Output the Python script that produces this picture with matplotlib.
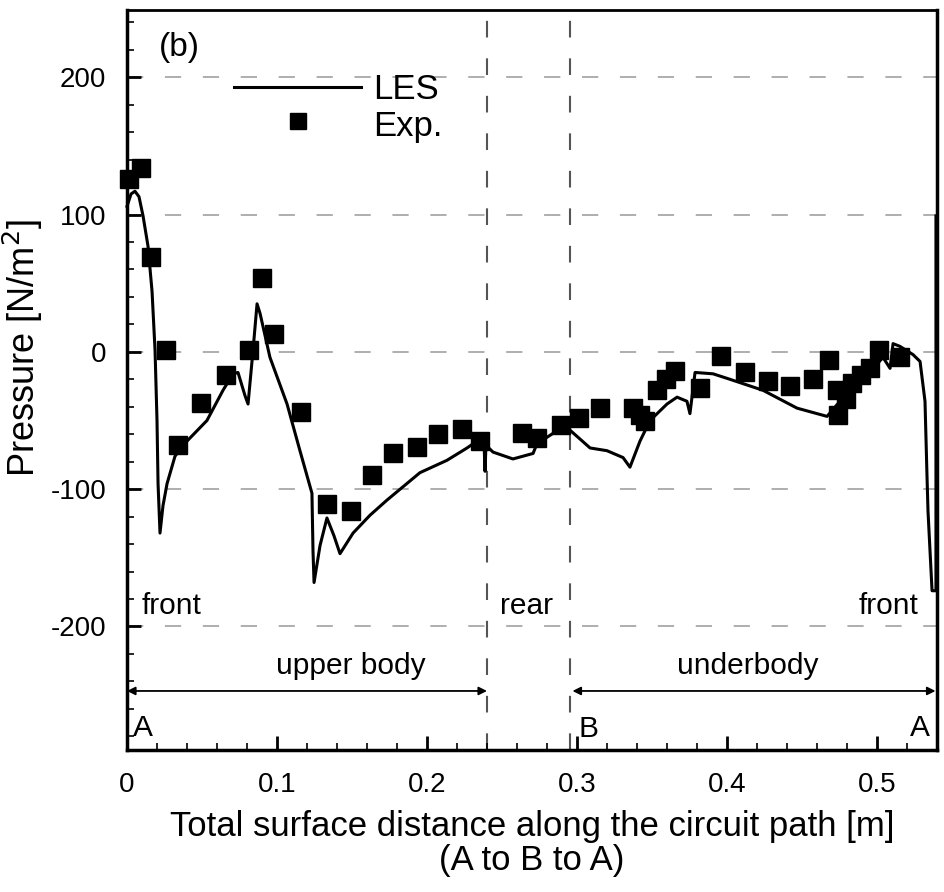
import matplotlib
matplotlib.use("Agg")
import matplotlib.pyplot as plt
from matplotlib.ticker import MultipleLocator

plt.rcParams['font.family'] = ['Liberation Sans', 'DejaVu Sans']

# LES curve
les_x = [0.0, 0.0027, 0.0053, 0.008, 0.0107, 0.014, 0.0167, 0.0187, 0.02, 0.0207, 0.022,
         0.024, 0.0267, 0.032, 0.04, 0.0533, 0.064, 0.0707, 0.074, 0.0787, 0.0807, 0.084,
         0.0867, 0.0887, 0.0953, 0.1067, 0.1153, 0.1233, 0.124, 0.1247, 0.1287, 0.1333,
         0.138, 0.142, 0.1507, 0.162, 0.1733, 0.1953, 0.2133, 0.2267, 0.2333, 0.238,
         0.2387, 0.2393, 0.244, 0.2573, 0.2707, 0.2733, 0.2887, 0.2953, 0.3087, 0.32,
         0.3307, 0.3353, 0.342, 0.3487, 0.36, 0.3667, 0.3733, 0.3753, 0.3787, 0.3907,
         0.402, 0.424, 0.4467, 0.4667, 0.4753, 0.4887, 0.5, 0.504, 0.5087, 0.5107, 0.5153,
         0.524, 0.5287, 0.532, 0.5333, 0.534, 0.5367, 0.5393, 0.5393]
les_y = [106, 115, 117, 113, 99, 77, 44, 1, -50, -96, -132,
         -112, -96, -76, -65, -50, -28, -16, -15, -32, -38, 1,
         35, 28, -4, -38, -72, -103, -145, -168, -141, -121,
         -134, -147, -132, -119, -108, -88, -79, -70, -65, -66,
         -87, -68, -73, -78, -74, -67, -56, -57, -70, -72,
         -77, -84, -65, -50, -38, -33, -36, -45, -15, -16,
         -20, -28, -41, -47, -36, -23, -9, -4, -12, 6, 4,
         -2, -7, -36, -89, -116, -174, -174, 99]

# Experimental data
exp_x = [0.001, 0.009, 0.016, 0.026, 0.034, 0.049, 0.066, 0.081, 0.090, 0.098, 0.116,
         0.133, 0.149, 0.163, 0.177, 0.193, 0.207, 0.223, 0.235, 0.263, 0.273, 0.289,
         0.301, 0.315, 0.337, 0.342, 0.345, 0.353, 0.359, 0.365, 0.382, 0.396, 0.412,
         0.427, 0.442, 0.457, 0.468, 0.473, 0.474, 0.479, 0.483, 0.489, 0.495, 0.501,
         0.515]
exp_y = [126, 134, 69, 1, -68, -37, -17, 1, 54, 13, -44,
         -111, -116, -90, -74, -69, -60, -56, -65, -59, -63, -53,
         -48, -41, -41, -46, -50, -28, -20, -14, -26, -3, -15,
         -21, -25, -20, -6, -28, -46, -34, -23, -17, -12, 1,
         -4]

x_ticks = [0, 0.1, 0.2, 0.3, 0.4, 0.5]
x_ticklabels = ['0', '0.1', '0.2', '0.3', '0.4', '0.5']
y_ticks = [-200, -100, 0, 100, 200]
y_ticklabels = ['-200', '-100', '0', '100', '200']
boundaries = [0.24, 0.295]

fig = plt.figure(figsize=(9.44, 8.92), dpi=100)
ax = fig.add_axes([127/944, 1-750/892, (937-127)/944, (750-10)/892])

ax.set_xlim(0, 0.54)
ax.set_ylim(-290, 249)

# grid lines
for yv in y_ticks:
    ax.axhline(yv, color='#a8a8a8', lw=1.3, dashes=(9, 12), zorder=1)
for xv in boundaries:
    ax.axvline(xv, color='#555555', lw=1.5, dashes=(8, 10), zorder=1)

ax.plot(les_x, les_y, color='black', lw=2.2, zorder=3, clip_on=False)
ax.plot(exp_x, exp_y, 's', color='black', ms=12.5, zorder=4, clip_on=False)

# legend (manual)
ax.plot([0.071, 0.156], [193, 193], color='black', lw=2.2)
ax.plot([0.114], [168], 's', color='black', ms=12)
ax.text(0.164, 191, 'LES', fontsize=25, va='center', ha='left')
ax.text(0.164, 164, 'Exp.', fontsize=25, va='center', ha='left')

# annotations
ax.text(0.035, 222, '(b)', fontsize=24, ha='center', va='center')
ax.text(0.010, -185, 'front', fontsize=21.5, ha='left', va='center')
ax.text(0.249, -185, 'rear', fontsize=21.5, ha='left', va='center')
ax.text(0.5275, -185, 'front', fontsize=21.5, ha='right', va='center')
ax.text(0.149, -229, 'upper body', fontsize=21.5, ha='center', va='center')
ax.text(0.414, -229, 'underbody', fontsize=21.5, ha='center', va='center')
ax.text(0.004, -274, 'A', fontsize=21.5, ha='left', va='center')
ax.text(0.301, -275, 'B', fontsize=21.5, ha='left', va='center')
ax.text(0.5355, -274, 'A', fontsize=21.5, ha='right', va='center')

arrow_kw = dict(arrowstyle='<|-|>', color='black', lw=1.3, mutation_scale=12, shrinkA=0, shrinkB=0)
ax.annotate('', xy=(0.0, -247), xytext=(0.240, -247), arrowprops=arrow_kw)
ax.annotate('', xy=(0.297, -247), xytext=(0.539, -247), arrowprops=arrow_kw)

# ticks
ax.set_xticks(x_ticks)
ax.set_xticklabels(x_ticklabels)
ax.set_yticks(y_ticks)
ax.set_yticklabels(y_ticklabels)
ax.xaxis.set_minor_locator(MultipleLocator(0.02))
ax.yaxis.set_minor_locator(MultipleLocator(20))
ax.tick_params(which='major', direction='in', length=10, width=2, labelsize=20, colors='black')
ax.tick_params(axis='x', which='major', pad=16)
ax.tick_params(axis='y', which='major', pad=15)
ax.tick_params(which='minor', direction='in', length=5, width=1.2)
ax.tick_params(top=False, right=False, which='both')

for s in ['left', 'bottom', 'right']:
    ax.spines[s].set_linewidth(2.5)
ax.spines['top'].set_linewidth(2.0)

ax.set_ylabel('Pressure [N/m$^2$]', fontsize=26)
ax.yaxis.set_label_coords(-0.101, (750-348)/740)
ax.set_xlabel('Total surface distance along the circuit path [m]\n(A to B to A)', fontsize=25,
              linespacing=1.05)
ax.xaxis.set_label_coords(0.5, -(810-750)/740)

fig.savefig('out.png', dpi=100)
